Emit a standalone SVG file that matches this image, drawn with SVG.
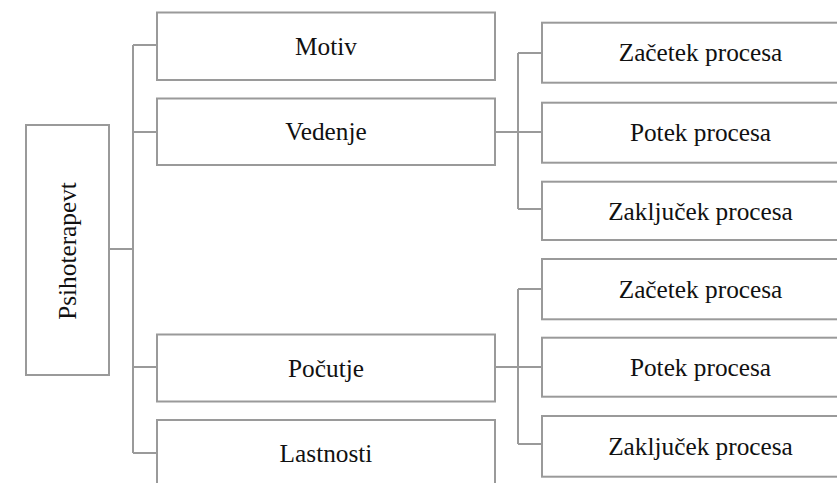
<svg xmlns="http://www.w3.org/2000/svg" width="837" height="483" viewBox="0 0 837 483">
  <style>
    .box { fill: #ffffff; stroke: #9a9a9a; stroke-width: 2; }
    .link { fill: none; stroke: #9a9a9a; stroke-width: 2; }
    .lbl { font-family: 'Liberation Serif', Tinos, 'Times New Roman', Times, 'DejaVu Serif', serif; font-size: 25.3px; fill: #111111; text-anchor: middle; }
  </style>
  <rect width="837" height="483" fill="#ffffff"/>

  <!-- connectors -->
  <g id="connectors">
    <path class="link" d="M109 249 H133 M133 45 V453 M133 45 H157 M133 132 H157 M133 367 H157 M133 453 H157"/>
    <path class="link" d="M495 132 H518 M518 53 V209 M518 53 H542 M518 132 H542 M518 209 H542"/>
    <path class="link" d="M495 367 H518 M518 289 V444 M518 289 H542 M518 367 H542 M518 444 H542"/>
  </g>

  <!-- root -->
  <g id="psihoterapevt">
    <rect class="box" x="26" y="125" width="83" height="250"/>
    <text class="lbl" transform="translate(75.5 251) rotate(-90)" x="0" y="0">Psihoterapevt</text>
  </g>

  <!-- first level -->
  <g id="motiv">
    <rect class="box" x="157" y="12.5" width="338" height="67.5"/>
    <text class="lbl" x="326" y="55">Motiv</text>
  </g>
  <g id="vedenje">
    <rect class="box" x="157" y="98.5" width="338" height="66.5"/>
    <text class="lbl" x="326" y="140">Vedenje</text>
  </g>
  <g id="pocutje">
    <rect class="box" x="157" y="334.5" width="338" height="67"/>
    <text class="lbl" x="326" y="376.5">Počutje</text>
  </g>
  <g id="lastnosti">
    <rect class="box" x="157" y="420" width="338" height="70"/>
    <text class="lbl" x="326" y="462">Lastnosti</text>
  </g>

  <!-- process steps under Vedenje -->
  <g id="vedenje-zacetek">
    <rect class="box" x="542" y="22.7" width="320" height="60"/>
    <text class="lbl" x="700.5" y="61">Začetek procesa</text>
  </g>
  <g id="vedenje-potek">
    <rect class="box" x="542" y="102.7" width="320" height="60"/>
    <text class="lbl" x="700.5" y="141">Potek procesa</text>
  </g>
  <g id="vedenje-zakljucek">
    <rect class="box" x="542" y="181.7" width="320" height="58.3"/>
    <text class="lbl" x="700.5" y="219.5">Zaključek procesa</text>
  </g>

  <!-- process steps under Počutje -->
  <g id="pocutje-zacetek">
    <rect class="box" x="542" y="259" width="320" height="60.3"/>
    <text class="lbl" x="700.5" y="297.5">Začetek procesa</text>
  </g>
  <g id="pocutje-potek">
    <rect class="box" x="542" y="337.7" width="320" height="59"/>
    <text class="lbl" x="700.5" y="375.5">Potek procesa</text>
  </g>
  <g id="pocutje-zakljucek">
    <rect class="box" x="542" y="416" width="320" height="60.7"/>
    <text class="lbl" x="700.5" y="454.5">Zaključek procesa</text>
  </g>
</svg>
